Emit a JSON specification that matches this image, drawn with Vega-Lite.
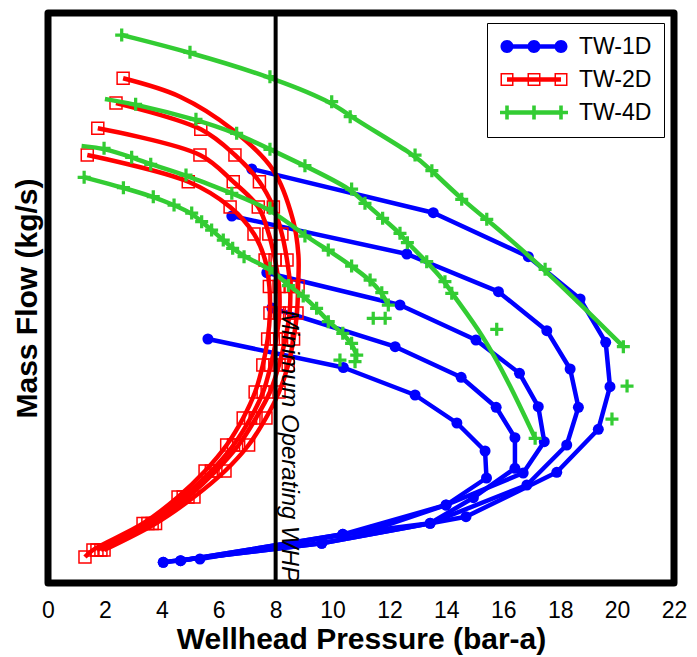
{
"$schema":"https://vega.github.io/schema/vega-lite/v6.json",
"width":626,"height":570,
"autosize":{"type":"none"},
"padding":{"left":48,"top":13,"right":23,"bottom":74},
"background":"white",
"config":{
 "font":"Liberation Sans",
 "view":{"stroke":"#000000","strokeWidth":7,"strokeJoin":"round"},
 "axis":{"grid":false,"domain":false,"ticks":false,"tickSize":0,"labelColor":"#000","titleColor":"#000","titleFontWeight":"bold","titleFontSize":30,"labelFontSize":23},
 "legend":{"orient":"top-right","offset":10,"padding":12,"rowPadding":9,"labelFontSize":23,"labelOffset":57,"labelColor":"#000","symbolSize":400,"symbolStrokeWidth":0,"strokeColor":"#000","fillColor":"#fff","labelLimit":300}
},
"datasets":{
"whp":[{"x":8,"y":27.3,"t":"Minimum Operating WHP"}],
"curves":[
{"s":"TW-1D","c":"B1","k":"m","i":0,"x":7.16,"y":41.4},
{"s":"TW-1D","c":"B1","k":"m","i":1,"x":13.54,"y":37.03},
{"s":"TW-1D","c":"B1","k":"m","i":2,"x":16.88,"y":32.63},
{"s":"TW-1D","c":"B1","k":"m","i":3,"x":18.70,"y":28.4},
{"s":"TW-1D","c":"B1","k":"m","i":4,"x":19.60,"y":24.07},
{"s":"TW-1D","c":"B1","k":"m","i":5,"x":19.75,"y":19.63},
{"s":"TW-1D","c":"B1","k":"m","i":6,"x":19.34,"y":15.37},
{"s":"TW-1D","c":"B1","k":"m","i":7,"x":17.88,"y":11.07},
{"s":"TW-1D","c":"B1","k":"m","i":8,"x":14.69,"y":6.63},
{"s":"TW-1D","c":"B1","k":"m","i":9,"x":9.62,"y":3.97},
{"s":"TW-1D","c":"B1","k":"m","i":10,"x":4.05,"y":2.07},
{"s":"TW-1D","c":"B2","k":"m","i":0,"x":6.46,"y":36.7},
{"s":"TW-1D","c":"B2","k":"m","i":1,"x":12.61,"y":32.9},
{"s":"TW-1D","c":"B2","k":"m","i":2,"x":15.83,"y":29.13},
{"s":"TW-1D","c":"B2","k":"m","i":3,"x":17.53,"y":25.23},
{"s":"TW-1D","c":"B2","k":"m","i":4,"x":18.35,"y":21.4},
{"s":"TW-1D","c":"B2","k":"m","i":5,"x":18.64,"y":17.57},
{"s":"TW-1D","c":"B2","k":"m","i":6,"x":18.23,"y":13.8},
{"s":"TW-1D","c":"B2","k":"m","i":7,"x":16.83,"y":9.8},
{"s":"TW-1D","c":"B2","k":"m","i":8,"x":13.43,"y":5.97},
{"s":"TW-1D","c":"B2","k":"m","i":9,"x":10.36,"y":4.87},
{"s":"TW-1D","c":"B2","k":"m","i":10,"x":4.66,"y":2.23},
{"s":"TW-1D","c":"B3","k":"m","i":0,"x":7.69,"y":31.03},
{"s":"TW-1D","c":"B3","k":"m","i":1,"x":12.37,"y":27.8},
{"s":"TW-1D","c":"B3","k":"m","i":2,"x":15.04,"y":24.3},
{"s":"TW-1D","c":"B3","k":"m","i":3,"x":16.57,"y":20.97},
{"s":"TW-1D","c":"B3","k":"m","i":4,"x":17.23,"y":17.63},
{"s":"TW-1D","c":"B3","k":"m","i":5,"x":17.44,"y":14.13},
{"s":"TW-1D","c":"B3","k":"m","i":6,"x":16.70,"y":11.0},
{"s":"TW-1D","c":"B3","k":"m","i":7,"x":13.99,"y":7.8},
{"s":"TW-1D","c":"B3","k":"m","i":8,"x":11.38,"y":5.3},
{"s":"TW-1D","c":"B3","k":"m","i":9,"x":5.34,"y":2.4},
{"s":"TW-1D","c":"B4","k":"m","i":0,"x":7.87,"y":27.5},
{"s":"TW-1D","c":"B4","k":"m","i":1,"x":12.20,"y":23.63},
{"s":"TW-1D","c":"B4","k":"m","i":2,"x":14.52,"y":20.57},
{"s":"TW-1D","c":"B4","k":"m","i":3,"x":15.75,"y":17.57},
{"s":"TW-1D","c":"B4","k":"m","i":4,"x":16.41,"y":14.53},
{"s":"TW-1D","c":"B4","k":"m","i":5,"x":16.41,"y":11.47},
{"s":"TW-1D","c":"B4","k":"m","i":6,"x":14.95,"y":8.53},
{"s":"TW-1D","c":"B4","k":"m","i":7,"x":13.43,"y":5.97},
{"s":"TW-1D","c":"B4","k":"m","i":8,"x":9.62,"y":3.97},
{"s":"TW-1D","c":"B4","k":"m","i":9,"x":4.05,"y":2.07},
{"s":"TW-1D","c":"B5","k":"m","i":0,"x":5.62,"y":24.4},
{"s":"TW-1D","c":"B5","k":"m","i":1,"x":10.38,"y":21.55},
{"s":"TW-1D","c":"B5","k":"m","i":2,"x":12.90,"y":18.8},
{"s":"TW-1D","c":"B5","k":"m","i":3,"x":14.37,"y":16.0},
{"s":"TW-1D","c":"B5","k":"m","i":4,"x":15.36,"y":13.2},
{"s":"TW-1D","c":"B5","k":"m","i":5,"x":15.41,"y":10.5},
{"s":"TW-1D","c":"B5","k":"m","i":6,"x":13.99,"y":7.8},
{"s":"TW-1D","c":"B5","k":"m","i":7,"x":10.36,"y":4.87},
{"s":"TW-1D","c":"B5","k":"m","i":8,"x":4.66,"y":2.23},
{"s":"TW-2D","c":"R1","k":"m","i":0,"x":2.64,"y":50.47},
{"s":"TW-2D","c":"R1","k":"f","i":1,"x":4.64,"y":48.63},
{"s":"TW-2D","c":"R1","k":"f","i":2,"x":6.50,"y":45.3},
{"s":"TW-2D","c":"R1","k":"f","i":3,"x":7.91,"y":41.3},
{"s":"TW-2D","c":"R1","k":"f","i":4,"x":8.61,"y":36.3},
{"s":"TW-2D","c":"R1","k":"f","i":5,"x":8.80,"y":32.8},
{"s":"TW-2D","c":"R1","k":"m","i":6,"x":8.79,"y":29.65},
{"s":"TW-2D","c":"R1","k":"m","i":7,"x":8.75,"y":27.0},
{"s":"TW-2D","c":"R1","k":"m","i":8,"x":8.63,"y":24.4},
{"s":"TW-2D","c":"R1","k":"m","i":9,"x":8.44,"y":21.8},
{"s":"TW-2D","c":"R1","k":"m","i":10,"x":8.12,"y":19.1},
{"s":"TW-2D","c":"R1","k":"m","i":11,"x":7.66,"y":16.5},
{"s":"TW-2D","c":"R1","k":"m","i":12,"x":7.05,"y":13.8},
{"s":"TW-2D","c":"R1","k":"m","i":13,"x":6.22,"y":11.2},
{"s":"TW-2D","c":"R1","k":"m","i":14,"x":5.13,"y":8.6},
{"s":"TW-2D","c":"R1","k":"m","i":15,"x":3.78,"y":5.95},
{"s":"TW-2D","c":"R1","k":"m","i":16,"x":1.97,"y":3.3},
{"s":"TW-2D","c":"R2","k":"m","i":0,"x":2.39,"y":48.0},
{"s":"TW-2D","c":"R2","k":"m","i":1,"x":5.37,"y":45.37},
{"s":"TW-2D","c":"R2","k":"m","i":2,"x":6.57,"y":42.8},
{"s":"TW-2D","c":"R2","k":"m","i":3,"x":7.43,"y":40.13},
{"s":"TW-2D","c":"R2","k":"m","i":4,"x":7.92,"y":37.6},
{"s":"TW-2D","c":"R2","k":"m","i":5,"x":8.22,"y":34.9},
{"s":"TW-2D","c":"R2","k":"m","i":6,"x":8.40,"y":32.3},
{"s":"TW-2D","c":"R2","k":"m","i":7,"x":8.51,"y":29.65},
{"s":"TW-2D","c":"R2","k":"m","i":8,"x":8.49,"y":27.0},
{"s":"TW-2D","c":"R2","k":"m","i":9,"x":8.34,"y":24.4},
{"s":"TW-2D","c":"R2","k":"m","i":10,"x":8.12,"y":21.8},
{"s":"TW-2D","c":"R2","k":"m","i":11,"x":7.80,"y":19.1},
{"s":"TW-2D","c":"R2","k":"m","i":12,"x":7.31,"y":16.5},
{"s":"TW-2D","c":"R2","k":"m","i":13,"x":6.70,"y":13.8},
{"s":"TW-2D","c":"R2","k":"m","i":14,"x":5.90,"y":11.2},
{"s":"TW-2D","c":"R2","k":"m","i":15,"x":4.92,"y":8.6},
{"s":"TW-2D","c":"R2","k":"m","i":16,"x":3.66,"y":5.95},
{"s":"TW-2D","c":"R2","k":"m","i":17,"x":1.86,"y":3.3},
{"s":"TW-2D","c":"R3","k":"m","i":0,"x":1.75,"y":45.47},
{"s":"TW-2D","c":"R3","k":"m","i":1,"x":5.34,"y":42.8},
{"s":"TW-2D","c":"R3","k":"m","i":2,"x":6.51,"y":40.13},
{"s":"TW-2D","c":"R3","k":"m","i":3,"x":7.39,"y":37.6},
{"s":"TW-2D","c":"R3","k":"m","i":4,"x":7.76,"y":34.9},
{"s":"TW-2D","c":"R3","k":"m","i":5,"x":7.98,"y":32.3},
{"s":"TW-2D","c":"R3","k":"m","i":6,"x":8.12,"y":29.65},
{"s":"TW-2D","c":"R3","k":"m","i":7,"x":8.13,"y":27.0},
{"s":"TW-2D","c":"R3","k":"m","i":8,"x":8.02,"y":24.4},
{"s":"TW-2D","c":"R3","k":"m","i":9,"x":7.83,"y":21.8},
{"s":"TW-2D","c":"R3","k":"m","i":10,"x":7.56,"y":19.1},
{"s":"TW-2D","c":"R3","k":"m","i":11,"x":7.12,"y":16.5},
{"s":"TW-2D","c":"R3","k":"m","i":12,"x":6.52,"y":13.8},
{"s":"TW-2D","c":"R3","k":"m","i":13,"x":5.74,"y":11.2},
{"s":"TW-2D","c":"R3","k":"m","i":14,"x":4.75,"y":8.6},
{"s":"TW-2D","c":"R3","k":"m","i":15,"x":3.51,"y":5.95},
{"s":"TW-2D","c":"R3","k":"m","i":16,"x":1.72,"y":3.3},
{"s":"TW-2D","c":"R4","k":"m","i":0,"x":1.38,"y":42.8},
{"s":"TW-2D","c":"R4","k":"m","i":1,"x":4.93,"y":40.13},
{"s":"TW-2D","c":"R4","k":"m","i":2,"x":6.40,"y":37.6},
{"s":"TW-2D","c":"R4","k":"m","i":3,"x":7.24,"y":34.9},
{"s":"TW-2D","c":"R4","k":"m","i":4,"x":7.63,"y":32.3},
{"s":"TW-2D","c":"R4","k":"m","i":5,"x":7.78,"y":29.65},
{"s":"TW-2D","c":"R4","k":"m","i":6,"x":7.80,"y":27.0},
{"s":"TW-2D","c":"R4","k":"m","i":7,"x":7.72,"y":24.4},
{"s":"TW-2D","c":"R4","k":"m","i":8,"x":7.55,"y":21.8},
{"s":"TW-2D","c":"R4","k":"m","i":9,"x":7.28,"y":19.1},
{"s":"TW-2D","c":"R4","k":"m","i":10,"x":6.86,"y":16.5},
{"s":"TW-2D","c":"R4","k":"m","i":11,"x":6.28,"y":13.8},
{"s":"TW-2D","c":"R4","k":"m","i":12,"x":5.52,"y":11.2},
{"s":"TW-2D","c":"R4","k":"m","i":13,"x":4.57,"y":8.6},
{"s":"TW-2D","c":"R4","k":"m","i":14,"x":3.34,"y":5.95},
{"s":"TW-2D","c":"R4","k":"m","i":15,"x":1.58,"y":3.3},
{"s":"TW-2D","c":"R4","k":"m","i":16,"x":1.30,"y":2.6},
{"s":"TW-4D","c":"G1","k":"m","i":0,"x":2.59,"y":54.8},
{"s":"TW-4D","c":"G1","k":"m","i":1,"x":4.99,"y":53.07},
{"s":"TW-4D","c":"G1","k":"m","i":2,"x":7.80,"y":50.63},
{"s":"TW-4D","c":"G1","k":"m","i":3,"x":9.97,"y":48.13},
{"s":"TW-4D","c":"G1","k":"m","i":4,"x":10.62,"y":46.63},
{"s":"TW-4D","c":"G1","k":"m","i":5,"x":12.90,"y":42.8},
{"s":"TW-4D","c":"G1","k":"m","i":6,"x":13.49,"y":41.23},
{"s":"TW-4D","c":"G1","k":"m","i":7,"x":14.54,"y":38.37},
{"s":"TW-4D","c":"G1","k":"m","i":8,"x":15.42,"y":36.37},
{"s":"TW-4D","c":"G1","k":"m","i":9,"x":17.47,"y":31.37},
{"s":"TW-4D","c":"G1","k":"m","i":10,"x":20.22,"y":23.63},
{"s":"TW-4D","c":"G1","k":"o","i":11,"x":20.35,"y":19.7},
{"s":"TW-4D","c":"G1","k":"o","i":12,"x":19.82,"y":16.4},
{"s":"TW-4D","c":"G2","k":"f","i":0,"x":2.00,"y":48.4},
{"s":"TW-4D","c":"G2","k":"m","i":1,"x":3.08,"y":47.87},
{"s":"TW-4D","c":"G2","k":"m","i":2,"x":5.20,"y":46.37},
{"s":"TW-4D","c":"G2","k":"m","i":3,"x":6.63,"y":44.97},
{"s":"TW-4D","c":"G2","k":"m","i":4,"x":7.80,"y":43.37},
{"s":"TW-4D","c":"G2","k":"m","i":5,"x":9.03,"y":41.73},
{"s":"TW-4D","c":"G2","k":"m","i":6,"x":10.67,"y":39.4},
{"s":"TW-4D","c":"G2","k":"m","i":7,"x":11.14,"y":37.97},
{"s":"TW-4D","c":"G2","k":"m","i":8,"x":11.76,"y":36.47},
{"s":"TW-4D","c":"G2","k":"m","i":9,"x":12.37,"y":34.97},
{"s":"TW-4D","c":"G2","k":"m","i":10,"x":12.63,"y":34.03},
{"s":"TW-4D","c":"G2","k":"m","i":11,"x":13.31,"y":32.13},
{"s":"TW-4D","c":"G2","k":"m","i":12,"x":13.95,"y":30.13},
{"s":"TW-4D","c":"G2","k":"m","i":13,"x":14.19,"y":28.97},
{"s":"TW-4D","c":"G2","k":"f","i":14,"x":15.29,"y":24.8},
{"s":"TW-4D","c":"G2","k":"f","i":15,"x":16.24,"y":19.8},
{"s":"TW-4D","c":"G2","k":"m","i":16,"x":17.12,"y":14.47},
{"s":"TW-4D","c":"G2","k":"o","i":17,"x":15.77,"y":25.37},
{"s":"TW-4D","c":"G3","k":"f","i":0,"x":1.18,"y":43.7},
{"s":"TW-4D","c":"G3","k":"m","i":1,"x":1.97,"y":43.47},
{"s":"TW-4D","c":"G3","k":"m","i":2,"x":2.94,"y":42.57},
{"s":"TW-4D","c":"G3","k":"m","i":3,"x":3.61,"y":41.87},
{"s":"TW-4D","c":"G3","k":"m","i":4,"x":4.85,"y":40.8},
{"s":"TW-4D","c":"G3","k":"m","i":5,"x":6.46,"y":38.97},
{"s":"TW-4D","c":"G3","k":"m","i":6,"x":7.80,"y":37.47},
{"s":"TW-4D","c":"G3","k":"m","i":7,"x":9.03,"y":34.7},
{"s":"TW-4D","c":"G3","k":"m","i":8,"x":9.85,"y":33.3},
{"s":"TW-4D","c":"G3","k":"m","i":9,"x":10.67,"y":31.7},
{"s":"TW-4D","c":"G3","k":"m","i":10,"x":11.32,"y":30.3},
{"s":"TW-4D","c":"G3","k":"m","i":11,"x":11.73,"y":29.03},
{"s":"TW-4D","c":"G3","k":"m","i":12,"x":11.96,"y":27.8},
{"s":"TW-4D","c":"G3","k":"o","i":13,"x":11.43,"y":26.47},
{"s":"TW-4D","c":"G3","k":"o","i":14,"x":11.85,"y":26.47},
{"s":"TW-4D","c":"G4","k":"m","i":0,"x":1.27,"y":40.57},
{"s":"TW-4D","c":"G4","k":"m","i":1,"x":2.65,"y":39.53},
{"s":"TW-4D","c":"G4","k":"m","i":2,"x":3.70,"y":38.63},
{"s":"TW-4D","c":"G4","k":"m","i":3,"x":4.43,"y":37.8},
{"s":"TW-4D","c":"G4","k":"m","i":4,"x":5.05,"y":37.0},
{"s":"TW-4D","c":"G4","k":"m","i":5,"x":5.40,"y":36.13},
{"s":"TW-4D","c":"G4","k":"m","i":6,"x":5.75,"y":35.3},
{"s":"TW-4D","c":"G4","k":"m","i":7,"x":6.16,"y":34.3},
{"s":"TW-4D","c":"G4","k":"m","i":8,"x":6.49,"y":33.47},
{"s":"TW-4D","c":"G4","k":"m","i":9,"x":6.89,"y":32.63},
{"s":"TW-4D","c":"G4","k":"m","i":10,"x":7.80,"y":31.47},
{"s":"TW-4D","c":"G4","k":"m","i":11,"x":8.45,"y":29.75},
{"s":"TW-4D","c":"G4","k":"m","i":12,"x":8.97,"y":28.7},
{"s":"TW-4D","c":"G4","k":"m","i":13,"x":9.44,"y":27.47},
{"s":"TW-4D","c":"G4","k":"m","i":14,"x":9.85,"y":26.13},
{"s":"TW-4D","c":"G4","k":"m","i":15,"x":10.36,"y":24.97},
{"s":"TW-4D","c":"G4","k":"m","i":16,"x":10.67,"y":23.97},
{"s":"TW-4D","c":"G4","k":"m","i":17,"x":10.85,"y":22.8},
{"s":"TW-4D","c":"G4","k":"o","i":18,"x":10.26,"y":22.3},
{"s":"TW-4D","c":"G4","k":"o","i":19,"x":10.79,"y":22.13}
]},
"encoding":{
 "x":{"field":"x","type":"quantitative","scale":{"domain":[0,22],"nice":false,"zero":false},"axis":{"values":[0,2,4,6,8,10,12,14,16,18,20,22],"labelFlush":false,"labelPadding":16,"titlePadding":2},"title":"Wellhead Pressure (bar-a)"}
},
"layer":[
{"data":{"name":"curves"},"transform":[{"filter":"datum.s == 'TW-1D' && datum.k != 'o'"}],
 "mark":{"type":"line","color":"#0000ff","strokeWidth":4.5,"strokeJoin":"round"},
 "encoding":{"y":{"field":"y","type":"quantitative","scale":{"domain":[0,57],"nice":false},"axis":{"labels":false,"titlePadding":6},"title":"Mass Flow (kg/s)"},"detail":{"field":"c"},"order":{"field":"i"}}},
{"data":{"name":"curves"},"transform":[{"filter":"datum.s == 'TW-1D' && datum.k != 'f'"}],
 "mark":{"type":"point","shape":"circle","filled":true,"color":"#0000ff","size":121,"opacity":1},
 "encoding":{"y":{"field":"y","type":"quantitative","scale":{"domain":[0,57],"nice":false},"axis":{"labels":false,"titlePadding":6},"title":"Mass Flow (kg/s)"}}},
{"data":{"name":"curves"},"transform":[{"filter":"datum.s == 'TW-2D' && datum.k != 'o'"}],
 "mark":{"type":"line","color":"#ff0000","strokeWidth":4.5,"interpolate":"catmull-rom","strokeJoin":"round"},
 "encoding":{"y":{"field":"y","type":"quantitative","scale":{"domain":[0,57],"nice":false},"axis":{"labels":false,"titlePadding":6},"title":"Mass Flow (kg/s)"},"detail":{"field":"c"},"order":{"field":"i"}}},
{"data":{"name":"curves"},"transform":[{"filter":"datum.s == 'TW-2D' && datum.k != 'f'"}],
 "mark":{"type":"point","shape":"square","filled":false,"color":"#ff0000","size":144,"strokeWidth":1.5,"opacity":1},
 "encoding":{"y":{"field":"y","type":"quantitative","scale":{"domain":[0,57],"nice":false},"axis":{"labels":false,"titlePadding":6},"title":"Mass Flow (kg/s)"}}},
{"data":{"name":"curves"},"transform":[{"filter":"datum.s == 'TW-4D' && datum.k != 'o'"}],
 "mark":{"type":"line","color":"#33cc33","strokeWidth":4.5,"interpolate":"basis","strokeJoin":"round"},
 "encoding":{"y":{"field":"y","type":"quantitative","scale":{"domain":[0,57],"nice":false},"axis":{"labels":false,"titlePadding":6},"title":"Mass Flow (kg/s)"},"detail":{"field":"c"},"order":{"field":"i"}}},
{"data":{"name":"curves"},"transform":[{"filter":"datum.s == 'TW-4D' && datum.k != 'f'"}],
 "mark":{"type":"point","shape":"M-0.25,-1H0.25V-0.25H1V0.25H0.25V1H-0.25V0.25H-1V-0.25H-0.25Z","filled":true,"color":"#33cc33","size":169,"strokeWidth":0,"opacity":1},
 "encoding":{"y":{"field":"y","type":"quantitative","scale":{"domain":[0,57],"nice":false},"axis":{"labels":false,"titlePadding":6},"title":"Mass Flow (kg/s)"}}},
{"data":{"name":"whp"},
 "mark":{"type":"rule","color":"#000000","strokeWidth":4},
 "encoding":{}},
{"data":{"name":"whp"},
 "mark":{"type":"text","angle":90,"align":"left","baseline":"alphabetic","dy":-6,"fontSize":24,"fontStyle":"italic","color":"#000000"},
 "encoding":{"y":{"field":"y","type":"quantitative","scale":{"domain":[0,57],"nice":false},"axis":{"labels":false,"titlePadding":6},"title":"Mass Flow (kg/s)"},"text":{"field":"t"}}},
{"data":{"name":"curves"},"transform":[{"filter":"false"}],
 "mark":{"type":"point","filled":true,"opacity":1,"strokeWidth":0},
 "encoding":{
  "y":{"field":"y","type":"quantitative","scale":{"domain":[0,57],"nice":false},"axis":{"labels":false,"titlePadding":6},"title":"Mass Flow (kg/s)"},
  "color":{"field":"s","type":"nominal","scale":{"domain":["TW-1D","TW-2D","TW-4D"],"range":["#0000ff","#ff0000","#33cc33"]},"legend":{"title":null}},
  "shape":{"field":"s","type":"nominal","scale":{"domain":["TW-1D","TW-2D","TW-4D"],"range":[
   "M-0.35,-0.22H5.05V0.22H-0.35Z M-1,0A0.65,0.65 0 1 1 0.3,0A0.65,0.65 0 1 1 -1,0Z M1.7,0A0.65,0.65 0 1 1 3,0A0.65,0.65 0 1 1 1.7,0Z M4.4,0A0.65,0.65 0 1 1 5.7,0A0.65,0.65 0 1 1 4.4,0Z",
   "M-0.35,-0.22H5.05V0.22H-0.35Z M-1,-0.65H0.3V0.65H-1Z M-0.85,-0.5V0.5H0.15V-0.5Z M1.7,-0.65H3V0.65H1.7Z M1.85,-0.5V0.5H2.85V-0.5Z M4.4,-0.65H5.7V0.65H4.4Z M4.55,-0.5V0.5H5.55V-0.5Z",
   "M-0.35,-0.22H5.05V0.22H-0.35Z M-0.53,-0.7H-0.17V-0.18H0.35V0.18H-0.17V0.7H-0.53V0.18H-1.05V-0.18H-0.53Z M2.17,-0.7H2.53V-0.18H3.05V0.18H2.53V0.7H2.17V0.18H1.65V-0.18H2.17Z M4.87,-0.7H5.23V-0.18H5.75V0.18H5.23V0.7H4.87V0.18H4.35V-0.18H4.87Z"
  ]},"legend":{"title":null}}
 }}
]
}
